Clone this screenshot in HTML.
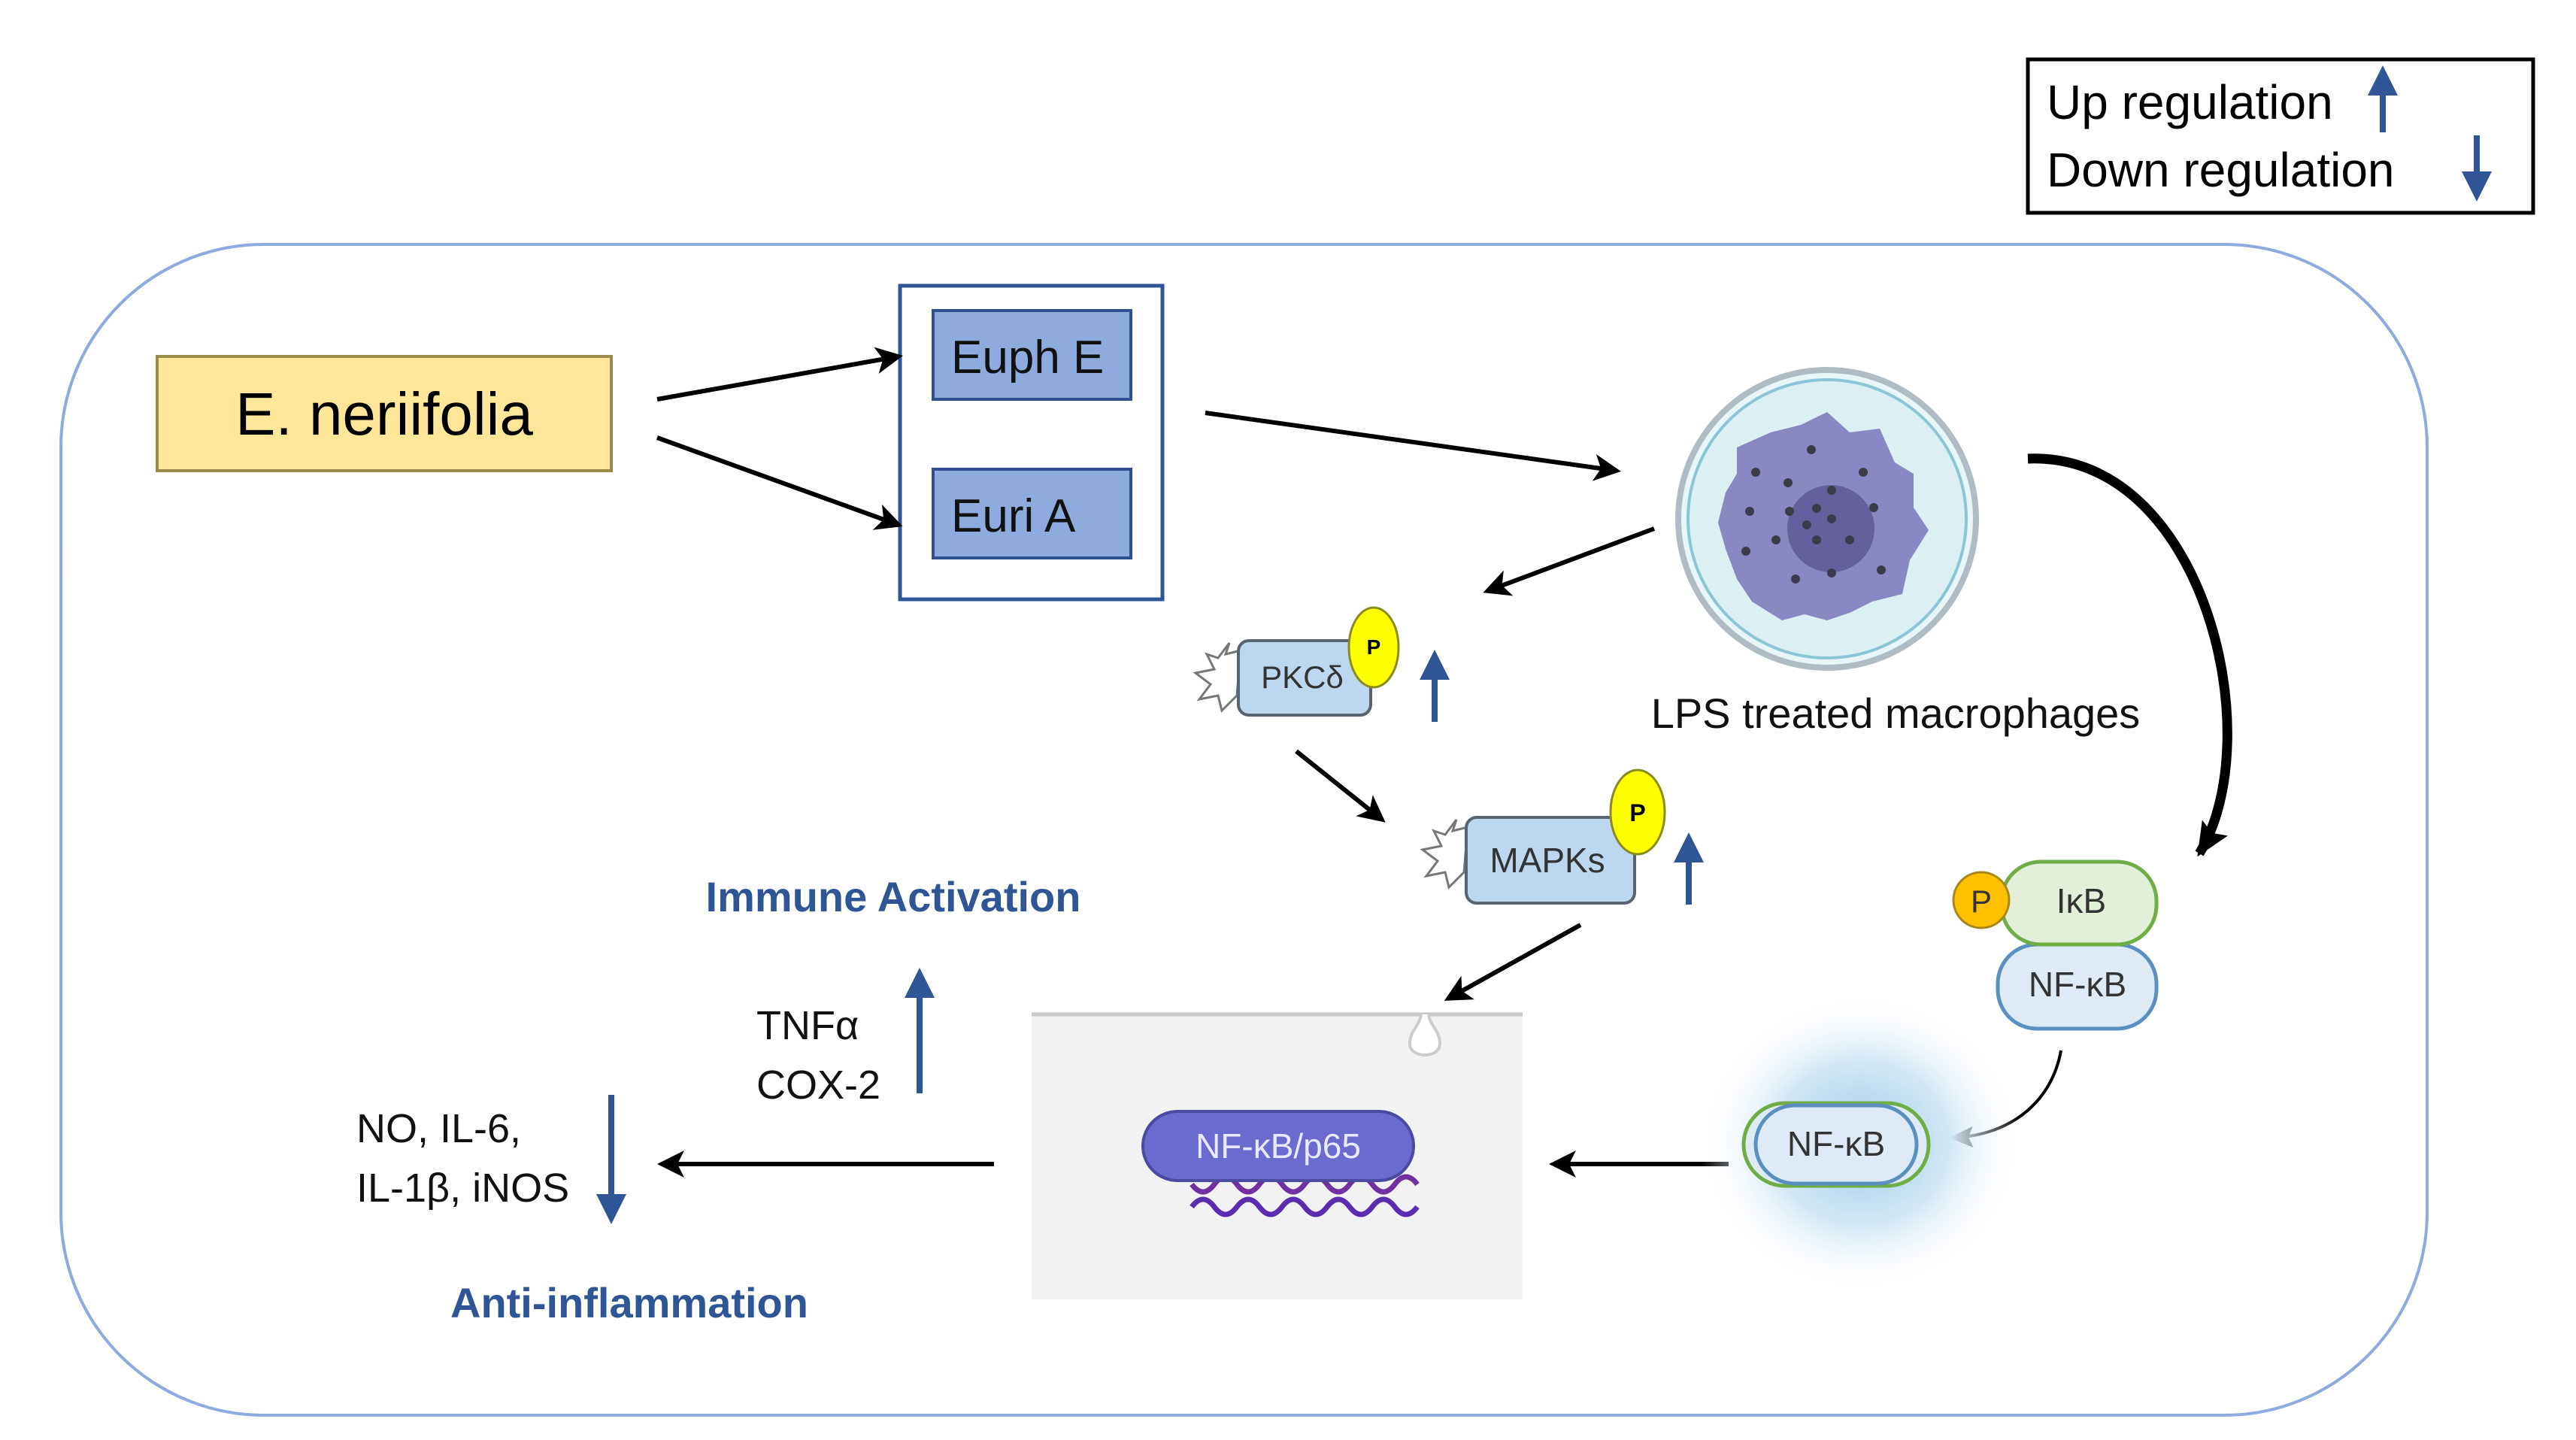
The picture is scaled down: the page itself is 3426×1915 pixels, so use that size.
<!DOCTYPE html>
<html><head><meta charset="utf-8"><style>
html,body{margin:0;padding:0;background:#fff}
svg{display:block}
text{font-family:"Liberation Sans",sans-serif}
</style></head><body>
<svg width="3426" height="1915" viewBox="0 0 3426 1915" xmlns="http://www.w3.org/2000/svg">
<defs>
<marker id="ah" markerWidth="6" markerHeight="6" refX="5" refY="3" orient="auto" markerUnits="strokeWidth"><path d="M0,0 L6,3 L0,6 L1.5,3 z" fill="#000"/></marker>
<marker id="big" markerWidth="50" markerHeight="50" refX="40" refY="25" orient="auto" markerUnits="userSpaceOnUse"><path d="M0,5 L45,25 L0,45 L8,25 z" fill="#000"/></marker>
<marker id="thin" markerWidth="34" markerHeight="34" refX="28" refY="17" orient="auto" markerUnits="userSpaceOnUse"><path d="M0,3 L32,17 L0,31 L6,17 z" fill="#000"/></marker>
<marker id="bh" markerWidth="5" markerHeight="5" refX="4" refY="2.5" orient="auto" markerUnits="strokeWidth"><path d="M0,0 L5,2.5 L0,5 z" fill="#2F5597"/></marker>
<radialGradient id="glow"><stop offset="0" stop-color="#9fcbe6"/><stop offset="0.55" stop-color="#d3e8f5"/><stop offset="1" stop-color="#fff" stop-opacity="0"/></radialGradient>
</defs>
<!-- legend -->
<rect x="2697" y="79" width="672" height="204" fill="#fff" stroke="#000" stroke-width="5"/>
<text x="2722" y="158" font-size="64" fill="#000">Up regulation</text>
<text x="2722" y="248" font-size="64" fill="#000">Down regulation</text>
<line x1="3169" y1="176" x2="3169" y2="95" stroke="#2F5597" stroke-width="8" marker-end="url(#bh)"/>
<line x1="3294" y1="180" x2="3294" y2="260" stroke="#2F5597" stroke-width="8" marker-end="url(#bh)"/>
<!-- outer frame -->
<rect x="81" y="325" width="3147" height="1557" rx="270" fill="none" stroke="#8FAADC" stroke-width="4"/>
<!-- E. neriifolia -->
<rect x="209" y="474" width="604" height="152" fill="#FFE699" stroke="#9c8a4a" stroke-width="4"/>
<text x="511" y="578" font-size="80" text-anchor="middle" fill="#000">E. neriifolia</text>
<!-- compounds -->
<rect x="1197" y="380" width="349" height="417" fill="#fff" stroke="#2F5597" stroke-width="5"/>
<rect x="1241" y="413" width="263" height="118" fill="#8FAADC" stroke="#2f4f8f" stroke-width="4"/>
<text x="1265" y="496" font-size="62" fill="#111">Euph E</text>
<rect x="1241" y="624" width="263" height="118" fill="#8FAADC" stroke="#2f4f8f" stroke-width="4"/>
<text x="1265" y="707" font-size="62" fill="#111">Euri A</text>
<!-- arrows -->
<g stroke="#000" stroke-width="6" fill="none">
<line x1="874" y1="531" x2="1195" y2="474" marker-end="url(#ah)"/>
<line x1="874" y1="582" x2="1195" y2="698" marker-end="url(#ah)"/>
<line x1="1603" y1="549" x2="2150" y2="626" marker-end="url(#ah)"/>
<line x1="2200" y1="703" x2="1978" y2="786" marker-end="url(#ah)"/>
<line x1="1724" y1="999" x2="1838" y2="1090" marker-end="url(#ah)"/>
<line x1="2102" y1="1230" x2="1926" y2="1328" marker-end="url(#ah)"/>
<line x1="2299" y1="1548" x2="2066" y2="1548" marker-end="url(#ah)"/>
<line x1="1322" y1="1548" x2="880" y2="1548" marker-end="url(#ah)"/>
<path d="M2697,610 C2930,600 3020,980 2925,1135" stroke-width="13" marker-end="url(#big)"/>
<path d="M2741,1397 C2730,1460 2680,1510 2596,1513" stroke-width="4" marker-end="url(#thin)"/>
</g>
<!-- macrophage -->
<circle cx="2430" cy="690" r="198" fill="#e8f6f8" stroke="#b0bcc4" stroke-width="8"/>
<circle cx="2430" cy="690" r="185" fill="#dcf0f4" stroke="#8cc6d6" stroke-width="4"/>
<path d="M2430,548 L2460,575 L2500,570 L2520,615 L2545,630 L2545,675 L2565,705 L2540,745 L2530,790 L2490,800 L2460,815 L2430,825 L2400,817 L2370,825 L2330,800 L2310,770 L2295,730 L2285,695 L2295,655 L2310,630 L2310,595 L2355,575 L2395,565 Z" fill="#8a88c2"/>
<circle cx="2435" cy="703" r="58" fill="#64609e"/>
<g fill="#3b3b4a"><circle cx="2409" cy="598" r="6"/><circle cx="2335" cy="628" r="6"/><circle cx="2378" cy="642" r="6"/><circle cx="2478" cy="628" r="6"/><circle cx="2327" cy="680" r="6"/><circle cx="2380" cy="680" r="6"/><circle cx="2416" cy="676" r="6"/><circle cx="2436" cy="652" r="6"/><circle cx="2436" cy="690" r="6"/><circle cx="2403" cy="698" r="6"/><circle cx="2416" cy="718" r="6"/><circle cx="2460" cy="718" r="6"/><circle cx="2492" cy="675" r="6"/><circle cx="2362" cy="718" r="6"/><circle cx="2322" cy="733" r="6"/><circle cx="2388" cy="770" r="6"/><circle cx="2436" cy="762" r="6"/><circle cx="2502" cy="758" r="6"/></g>
<text x="2521" y="968" font-size="56" text-anchor="middle" fill="#111">LPS treated macrophages</text>
<!-- PKC delta -->
<path d="M1650,865 l-20,5 l5,-15 l-15,20 l-15,-5 l10,20 l-25,5 l20,15 l-15,20 l25,-5 l5,20 l20,-20 z" fill="#fff" stroke="#777" stroke-width="3"/>
<rect x="1647" y="852" width="176" height="99" rx="14" fill="#bdd7ee" stroke="#5a6470" stroke-width="4"/>
<text x="1732" y="915" font-size="42" text-anchor="middle" fill="#333">PKCδ</text>
<ellipse cx="1827" cy="861" rx="33" ry="53" fill="#ffff00" stroke="#8a8a20" stroke-width="3"/>
<text x="1827" y="870" font-size="28" font-weight="bold" text-anchor="middle">P</text>
<line x1="1908" y1="960" x2="1908" y2="872" stroke="#2F5597" stroke-width="8" marker-end="url(#bh)"/>
<!-- MAPKs -->
<path d="M1952,1100 l-20,5 l5,-15 l-15,20 l-15,-5 l10,20 l-25,5 l20,15 l-15,20 l25,-5 l5,20 l20,-20 z" fill="#fff" stroke="#777" stroke-width="3"/>
<rect x="1950" y="1087" width="224" height="114" rx="14" fill="#bdd7ee" stroke="#5a6470" stroke-width="4"/>
<text x="2058" y="1160" font-size="46" text-anchor="middle" fill="#333">MAPKs</text>
<ellipse cx="2178" cy="1080" rx="36" ry="56" fill="#ffff00" stroke="#8a8a20" stroke-width="3"/>
<text x="2178" y="1092" font-size="32" font-weight="bold" text-anchor="middle">P</text>
<line x1="2246" y1="1203" x2="2246" y2="1115" stroke="#2F5597" stroke-width="8" marker-end="url(#bh)"/>
<!-- IkB / NF-kB -->
<rect x="2657" y="1256" width="211" height="112" rx="52" fill="#deebf7" stroke="#5a8fc0" stroke-width="5"/>
<text x="2763" y="1325" font-size="46" text-anchor="middle" fill="#333">NF-κB</text>
<rect x="2662" y="1146" width="206" height="110" rx="52" fill="#e2f0d9" stroke="#70ad47" stroke-width="5"/>
<text x="2768" y="1214" font-size="46" text-anchor="middle" fill="#333">IκB</text>
<circle cx="2635" cy="1197" r="37" fill="#ffc000" stroke="#a8861a" stroke-width="3"/>
<text x="2635" y="1213" font-size="42" text-anchor="middle" fill="#333">P</text>
<!-- glow nf-kb -->
<ellipse cx="2475" cy="1520" rx="215" ry="200" fill="url(#glow)"/>
<rect x="2319" y="1467" width="246" height="110" rx="55" fill="#deebf7" stroke="#70ad47" stroke-width="5"/>
<rect x="2335" y="1470" width="214" height="104" rx="52" fill="#deebf7" stroke="#5a8fc0" stroke-width="5"/>
<text x="2442" y="1537" font-size="46" text-anchor="middle" fill="#333">NF-κB</text>
<!-- nucleus -->
<rect x="1372" y="1346" width="653" height="382" fill="#f2f2f2"/>
<line x1="1372" y1="1349" x2="2025" y2="1349" stroke="#c8c8c8" stroke-width="5"/>
<path d="M1890,1349 C1888,1365 1875,1370 1875,1388 C1875,1408 1915,1408 1915,1388 C1915,1370 1902,1365 1900,1349" fill="#fff" stroke="#ccc" stroke-width="4"/>
<path d="M1585,1575 q15,20 30,0 t30,0 t30,0 t30,0 t30,0 t30,0 t30,0 t30,0 t30,0 t30,0" fill="none" stroke="#7030a0" stroke-width="7"/>
<path d="M1585,1605 q15,-20 30,0 t30,0 t30,0 t30,0 t30,0 t30,0 t30,0 t30,0 t30,0 t30,0" fill="none" stroke="#5a2db0" stroke-width="7"/>
<rect x="1520" y="1478" width="360" height="92" rx="46" fill="#6a6acf" stroke="#4a4aa0" stroke-width="4"/>
<text x="1700" y="1540" font-size="46" text-anchor="middle" fill="#e8e8ff">NF-κB/p65</text>
<!-- outputs -->
<text x="1188" y="1212" font-size="56" font-weight="bold" text-anchor="middle" fill="#2F5597">Immune Activation</text>
<text x="1006" y="1382" font-size="54" fill="#111">TNFα</text>
<text x="1006" y="1461" font-size="54" fill="#111">COX-2</text>
<line x1="1223" y1="1454" x2="1223" y2="1295" stroke="#2F5597" stroke-width="8" marker-end="url(#bh)"/>
<text x="474" y="1519" font-size="54" fill="#111">NO, IL-6,</text>
<text x="474" y="1598" font-size="54" fill="#111">IL-1β, iNOS</text>
<line x1="813" y1="1456" x2="813" y2="1620" stroke="#2F5597" stroke-width="8" marker-end="url(#bh)"/>
<text x="837" y="1752" font-size="56" font-weight="bold" text-anchor="middle" fill="#2F5597">Anti-inflammation</text>
</svg>
</body></html>
